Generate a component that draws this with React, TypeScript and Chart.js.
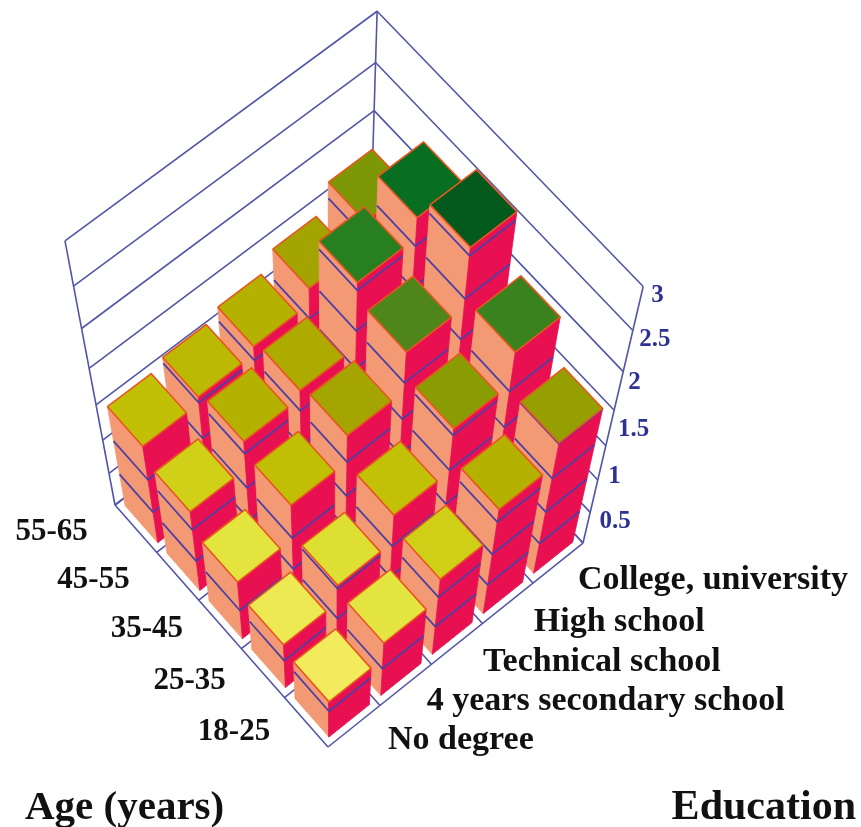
import React, { useEffect, useRef } from "react";
import { Chart, registerables } from "chart.js";

Chart.register(...registerables);

const ageGroups = ["18-25", "25-35", "35-45", "45-55", "55-65"];
const educationLevels = ["No degree", "4 years secondary school", "Technical school", "High school", "College, university"];
const zTickLabels = [0.5, 1, 1.5, 2, 2.5, 3];
const wallLevels = [0, 0.43, 0.86, 1.29, 1.71, 2.14, 2.57, 3];

const age18to25 = [0.58, 0.82, 1.11, 1.45, 1.72];
const age25to35 = [0.67, 0.91, 1.27, 1.79, 2.14];
const age35to45 = [0.84, 1.29, 1.61, 2.05, 2.65];
const age45to55 = [1.1, 1.44, 1.53, 2.22, 2.42];
const age55to65 = [1.28, 1.36, 1.45, 1.62, 1.87];
const seriesByAge = [age18to25, age25to35, age35to45, age45to55, age55to65];

const colorStopValues = [0.55, 0.85, 1.1, 1.3, 1.5, 1.65, 1.87, 2.05, 2.25, 2.42, 2.65];
const colorStops = [
  [244, 236, 98], [226, 228, 60], [208, 208, 24], [192, 190, 4], [176, 172, 0], [160, 162, 0],
  [124, 152, 6], [78, 134, 28], [32, 126, 32], [8, 110, 34], [4, 90, 28],
];

const MAX_Z = 3;
const INSET = 0.11;
const G = 0.02829, H = 0.02399, I = -0.1955;
const BLUE = "#5256a8";

function project(u: number, v: number, z: number) {
  const w = z / MAX_Z;
  const d = 1 + G * u + H * v + I * w;
  return {
    x: (-209.75 * u + 268.99 * v + 328 + 328 * I * w) / d,
    y: (-227.71 * u - 190.97 * v + 747 + 1630 * I * w) / d,
  };
}

function topColor(value: number) {
  let k = 0;
  while (k < colorStopValues.length - 2 && value > colorStopValues[k + 1]) k++;
  const t = Math.max(0, Math.min(1, (value - colorStopValues[k]) / (colorStopValues[k + 1] - colorStopValues[k])));
  const c = colorStops[k].map((a, n) => Math.round(a + (colorStops[k + 1][n] - a) * t));
  return `rgb(${c[0]},${c[1]},${c[2]})`;
}

function poly(data: { x: number; y: number }[], fillColor: string, stroke: string, width: number) {
  return {
    data: [...data, data[0]],
    showLine: true,
    fill: "shape",
    backgroundColor: fillColor,
    borderColor: stroke,
    borderWidth: width,
    borderJoinStyle: "round",
    pointRadius: 0,
    tension: 0,
  };
}

function line(data: { x: number; y: number }[], stroke: string, width: number) {
  return {
    data,
    showLine: true,
    fill: false,
    borderColor: stroke,
    borderWidth: width,
    borderJoinStyle: "round",
    pointRadius: 0,
    tension: 0,
  };
}

function buildDatasets() {
  const out: any[] = [];
  for (const z of wallLevels) {
    out.push(line([project(1, 0, z), project(1, 1, z), project(0, 1, z)], BLUE, 1.6));
  }
  out.push(line([project(1, 0, 0), project(1, 0, MAX_Z)], BLUE, 1.6));
  out.push(line([project(1, 1, 0), project(1, 1, MAX_Z)], BLUE, 1.6));
  out.push(line([project(0, 1, 0), project(0, 1, MAX_Z)], BLUE, 1.6));
  for (let k = 0; k <= ageGroups.length; k++) {
    const t = k / ageGroups.length;
    out.push(line([project(t, 0, 0), project(t, 1, 0)], BLUE, 1.6));
    out.push(line([project(0, t, 0), project(1, t, 0)], BLUE, 1.6));
  }
  const cells: [number, number][] = [];
  seriesByAge.forEach((s, i) => s.forEach((_, j) => cells.push([i, j])));
  cells.sort((a, b) => b[0] + b[1] - (a[0] + a[1]));
  for (const [i, j] of cells) {
    const h = seriesByAge[i][j];
    const u0 = (i + INSET) / 5, u1 = (i + 1 - INSET) / 5;
    const v0 = (j + INSET) / 5, v1 = (j + 1 - INSET) / 5;
    out.push(poly([project(u1, v0, 0), project(u0, v0, 0), project(u0, v0, h), project(u1, v0, h)], "#f39a75", "#f39a75", 0.8));
    out.push(poly([project(u0, v0, 0), project(u0, v1, 0), project(u0, v1, h), project(u0, v0, h)], "#e81050", "#e81050", 0.8));
    for (const z of wallLevels) {
      if (z > 0 && z < h) {
        out.push(line([project(u1, v0, z), project(u0, v0, z), project(u0, v1, z)], "#4f3fa2", 1.8));
      }
    }
    out.push(poly([project(u1, v0, h), project(u0, v0, h), project(u0, v1, h), project(u1, v1, h)], topColor(h), "#e8561e", 1.6));
  }
  return out.reverse();
}

const AGE_DX = [-36, -37, -37, -48, -48];
const AGE_DY = [10, 8, 5, 4, 3];
const EDU_DX = [34, 21, 26, 26, 20];
const EDU_DY = [14, 16, 18, 19, 17];
const TICK_DY = [14, 7, 1, -2, 2, 9];

const textPlugin = {
  id: "labels3d",
  afterDatasetsDraw(chart: any) {
    const { ctx, scales } = chart;
    const px = (p: { x: number; y: number }) => ({ x: scales.x.getPixelForValue(p.x), y: scales.y.getPixelForValue(p.y) });
    ctx.save();
    ctx.textBaseline = "middle";
    ctx.fillStyle = "#111111";
    ctx.font = 'bold 31px "Liberation Serif"';
    ctx.textAlign = "right";
    ageGroups.forEach((label, i) => {
      const p = px(project((i + 0.5) / 5, 0, 0));
      ctx.fillText(label, p.x + AGE_DX[i], p.y + AGE_DY[i]);
    });
    ctx.font = 'bold 34px "Liberation Serif"';
    ctx.textAlign = "left";
    educationLevels.forEach((label, j) => {
      const p = px(project(0, (j + 0.5) / 5, 0));
      ctx.fillText(label, p.x + EDU_DX[j], p.y + EDU_DY[j]);
    });
    ctx.font = 'bold 41px "Liberation Serif"';
    ctx.textAlign = "left";
    ctx.fillText("Age (years)", 25, 808);
    ctx.font = 'bold 42px "Liberation Serif"';
    ctx.textAlign = "right";
    ctx.fillText("Education", 856, 808);
    ctx.fillStyle = "#2d3192";
    ctx.font = 'bold 25px "Liberation Serif"';
    ctx.textAlign = "left";
    zTickLabels.forEach((z, n) => {
      const p = px(project(0, 1, z));
      ctx.fillText(String(z), p.x + 8, p.y + TICK_DY[n]);
    });
    ctx.restore();
  },
};

export default function App() {
  const ref = useRef<HTMLCanvasElement>(null);
  useEffect(() => {
    document.body.style.margin = "0";
    const chart = new Chart(ref.current as HTMLCanvasElement, {
      type: "scatter",
      data: { datasets: buildDatasets() },
      options: {
        animation: false,
        responsive: false,
        events: [],
        layout: { padding: 0 },
        plugins: { legend: { display: false }, tooltip: { enabled: false } },
        scales: {
          x: { type: "linear", min: 0, max: 861, display: false },
          y: { type: "linear", min: 0, max: 827, reverse: true, display: false },
        },
      },
      plugins: [textPlugin],
    } as any);
    return () => chart.destroy();
  }, []);
  return <canvas ref={ref} width={861} height={827} style={{ display: "block", filter: "blur(0.5px)" }} />;
}
